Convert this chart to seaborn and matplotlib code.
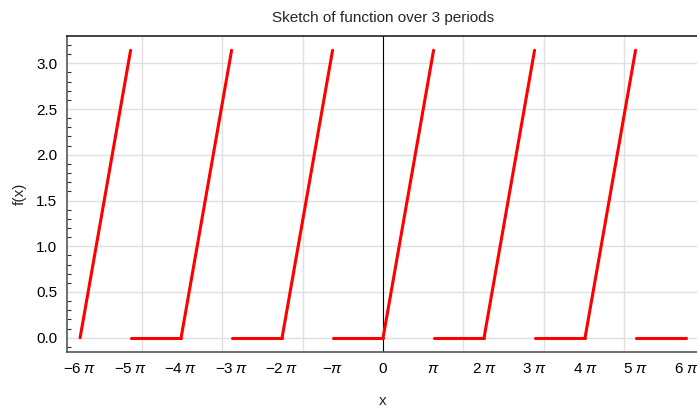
import numpy as np
import pandas as pd
import matplotlib.pyplot as plt
from matplotlib.ticker import MultipleLocator
import seaborn as sns

# segment end points, in multiples of pi
rise_start = [-6, -4, -2, 0, 2, 4]
flat_start = [-5, -3, -1, 1, 3, 5]
rise_y = [0, np.pi]
flat_y = [0, 0]

tick_pos = [-6, -5, -4, -3, -2, -1, 0, 1, 2, 3, 4, 5, 6]
tick_labels = [r'$-6\;\pi$', r'$-5\;\pi$', r'$-4\;\pi$', r'$-3\;\pi$', r'$-2\;\pi$',
               r'$-\pi$', r'$0$', r'$\pi$', r'$2\;\pi$', r'$3\;\pi$', r'$4\;\pi$',
               r'$5\;\pi$', r'$6\;\pi$']

rows = []
seg = 0
for s in rise_start:
    rows.append((seg, s * np.pi, rise_y[0]))
    rows.append((seg, (s + 1) * np.pi, rise_y[1]))
    seg += 1
for s in flat_start:
    rows.append((seg, s * np.pi, flat_y[0]))
    rows.append((seg, (s + 1) * np.pi, flat_y[1]))
    seg += 1
df = pd.DataFrame(rows, columns=['seg', 'x', 'y'])

sns.set_theme(style='white')
plt.rcParams['font.family'] = ['Liberation Sans', 'DejaVu Sans']
plt.rcParams['mathtext.fontset'] = 'custom'
plt.rcParams['mathtext.rm'] = 'Liberation Sans'
plt.rcParams['mathtext.it'] = 'Liberation Sans:italic'
plt.rcParams['mathtext.bf'] = 'Liberation Sans:bold'

fig = plt.figure(figsize=(6.97, 4.08), dpi=100)
ax = fig.add_axes([0.0961, 0.137, 0.907, 0.775])

sns.lineplot(data=df, x='x', y='y', units='seg', estimator=None,
             color='red', lw=2.2, ax=ax, sort=False)

ax.axvline(0, color='black', lw=0.8, zorder=1)

ax.set_xlim(-6.26 * np.pi, 6.26 * np.pi)
ax.set_ylim(-0.157, 3.299)

ax.set_xticks([p * np.pi for p in tick_pos])
ax.set_xticklabels(tick_labels)
ax.xaxis.set_minor_locator(MultipleLocator(5))
ax.yaxis.set_major_locator(MultipleLocator(0.5))
ax.yaxis.set_minor_locator(MultipleLocator(0.1))

ax.tick_params(axis='x', which='major', direction='in', length=4, width=0.8,
               labelsize=11, pad=7, colors='#333333', labelcolor='black')
ax.tick_params(axis='x', which='minor', length=0)
ax.tick_params(axis='y', which='major', direction='in', length=5, width=0.8,
               labelsize=11, pad=7, colors='#333333', labelcolor='black')
ax.tick_params(axis='y', which='minor', direction='in', length=3, width=0.8,
               colors='#333333', left=True)

ax.grid(True, axis='x', which='minor', color='#e0e0e0', lw=1)
ax.grid(True, axis='y', which='major', color='#e0e0e0', lw=1)
ax.set_axisbelow(True)

for side in ['left', 'bottom']:
    ax.spines[side].set_color('#555555')
    ax.spines[side].set_linewidth(1.2)
ax.spines['top'].set_color('#222222')
ax.spines['top'].set_linewidth(1.2)
ax.spines['right'].set_visible(False)

ax.set_title('Sketch of function over 3 periods', fontsize=11, pad=10)
ax.set_xlabel('x', fontsize=11, labelpad=13)
ax.set_ylabel('f(x)', fontsize=11, labelpad=7)

fig.savefig('out.png', dpi=100)
